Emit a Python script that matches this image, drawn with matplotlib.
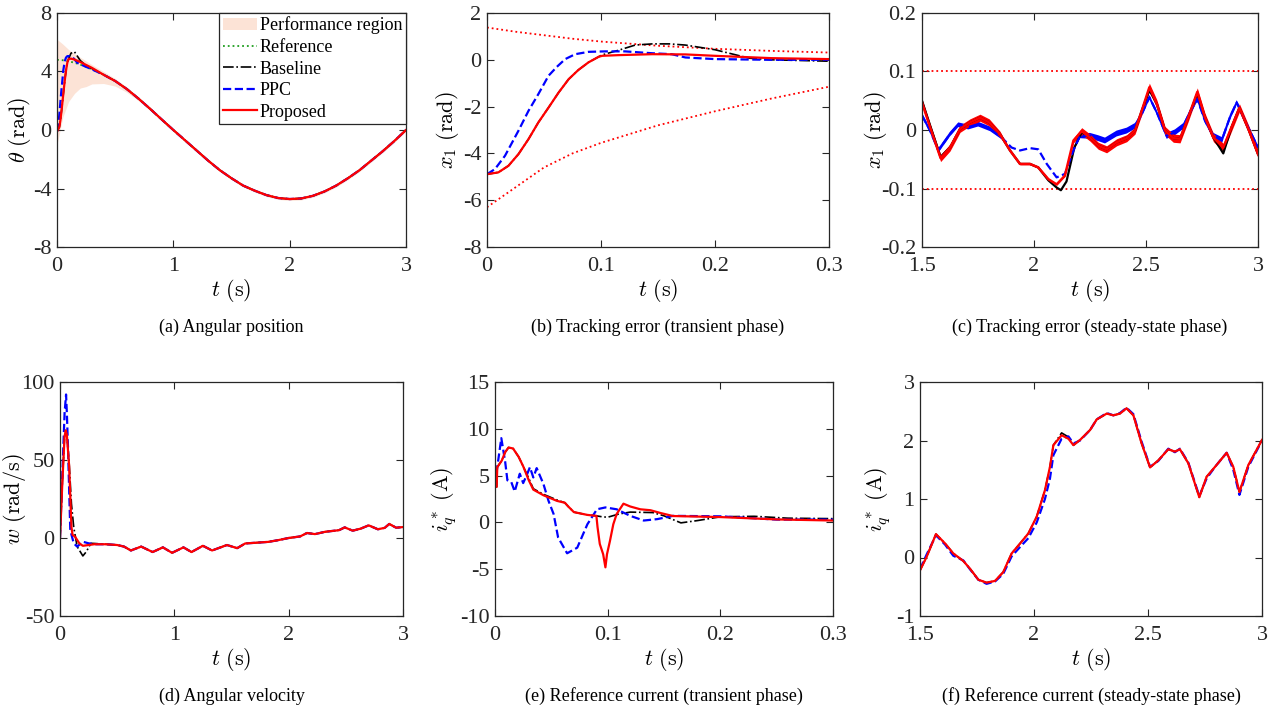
import numpy as np
import matplotlib
matplotlib.use("Agg")
import matplotlib.pyplot as plt

plt.rcParams['font.family'] = ['Liberation Serif', 'DejaVu Serif']
plt.rcParams['mathtext.fontset'] = 'cm'
plt.rcParams['axes.unicode_minus'] = False

# ---------------- (a) angular position ----------------
ref_t = [0, 0.05, 0.1, 0.15, 0.2, 0.25, 0.3, 0.4, 0.5, 0.6, 0.7, 0.8, 0.9, 1.0, 1.1, 1.2, 1.3,
         1.4, 1.5, 1.6, 1.7, 1.8, 1.9, 2.0, 2.1, 2.2, 2.3, 2.4, 2.5, 2.6, 2.7, 2.8, 2.9, 3.0]
ref_theta = [4.8, 4.77, 4.7, 4.6, 4.47, 4.32, 4.15, 3.78, 3.35, 2.8, 2.15, 1.45, 0.72, 0.0, -0.7,
             -1.4, -2.1, -2.75, -3.3, -3.8, -4.15, -4.45, -4.65, -4.72, -4.68, -4.5, -4.2, -3.8,
             -3.3, -2.75, -2.1, -1.45, -0.75, 0.0]
perf_hi_off = [1.4, 1.1, 0.8, 0.62, 0.5, 0.4, 0.32, 0.22, 0.17, 0.14, 0.12, 0.11] + [0.1] * 22
perf_lo_off = [-5.8, -3.9, -2.75, -2.1, -1.6, -1.35, -1.0, -0.6, -0.35, -0.22, -0.15, -0.12] + [-0.1] * 22

prop_a_t = [0, 0.02, 0.03, 0.04, 0.05, 0.06, 0.07, 0.08, 0.09, 0.1, 0.12, 0.15, 0.2, 0.25, 0.3] + ref_t[7:]
prop_a = [-0.1, 0.2, 0.7, 1.4, 2.15, 2.9, 3.6, 4.2, 4.65, 4.85, 4.88, 4.82, 4.65, 4.45, 4.25] + ref_theta[7:]
base_a_t = prop_a_t
base_a = [-0.1, 0.2, 0.7, 1.4, 2.15, 2.9, 3.6, 4.2, 4.65, 4.87, 5.25, 5.35, 4.75, 4.4, 4.2] + ref_theta[7:]
ppc_a_t = [0, 0.007, 0.0158, 0.0276, 0.0364, 0.045, 0.054, 0.0613, 0.0686, 0.0774, 0.089, 0.104,
           0.121, 0.145, 0.174, 0.2, 0.25, 0.3] + ref_t[7:]
ppc_a = [-0.1, 0.1, 0.68, 1.75, 2.58, 3.28, 4.07, 4.44, 4.75, 4.95, 5.05, 5.05, 5.0, 4.88, 4.6,
         4.5, 4.32, 4.15] + ref_theta[7:]

# ---------------- (b) tracking error, transient ----------------
bnd_t = [0, 0.025, 0.05, 0.075, 0.1, 0.15, 0.2, 0.25, 0.3]
bnd_hi = [1.38, 1.2, 1.05, 0.9, 0.78, 0.6, 0.47, 0.38, 0.31]
bnd_lo = [-6.3, -5.45, -4.6, -4.0, -3.55, -2.8, -2.2, -1.65, -1.15]
prop_b_t = [0, 0.01, 0.0188, 0.0276, 0.0364, 0.045, 0.054, 0.0628, 0.0716, 0.080, 0.089, 0.098,
            0.101, 0.1155, 0.145, 0.174, 0.2, 0.25, 0.3]
prop_b = [-4.89, -4.81, -4.53, -4.03, -3.39, -2.68, -2.04, -1.40, -0.83, -0.44, -0.11, 0.13, 0.17,
          0.2, 0.24, 0.23, 0.17, 0.07, 0.03]
base_b_t = [0, 0.01, 0.0188, 0.0276, 0.0364, 0.045, 0.054, 0.0628, 0.0716, 0.080, 0.089, 0.098,
            0.101, 0.1155, 0.13, 0.145, 0.16, 0.174, 0.2, 0.23, 0.25, 0.3]
base_b = [-4.89, -4.81, -4.53, -4.03, -3.39, -2.68, -2.04, -1.40, -0.83, -0.44, -0.11, 0.13, 0.21,
          0.41, 0.63, 0.68, 0.68, 0.63, 0.43, 0.07, 0.0, -0.06]
ppc_b_t = [0, 0.007, 0.0158, 0.0276, 0.0364, 0.045, 0.054, 0.0613, 0.0686, 0.0774, 0.089, 0.104,
           0.121, 0.145, 0.162, 0.174, 0.2, 0.25, 0.3]
ppc_b = [-4.89, -4.67, -4.10, -3.03, -2.18, -1.47, -0.68, -0.30, 0.03, 0.24, 0.34, 0.36, 0.36,
         0.28, 0.24, 0.1, 0.03, 0.0, 0.0]

# ---------------- (c) tracking error, steady state ----------------
ss_bound = 0.1
prop_c_t = [1.5, 1.536, 1.583, 1.625, 1.67, 1.714, 1.759, 1.80, 1.848, 1.893, 1.9375, 1.982, 2.019,
            2.064, 2.101, 2.138, 2.176, 2.213, 2.25, 2.287, 2.324, 2.369, 2.414, 2.451, 2.481,
            2.515, 2.548, 2.585, 2.622, 2.652, 2.689, 2.729, 2.763, 2.801, 2.845, 2.882, 2.917,
            2.957, 3.0]
prop_c = [0.047, 0.005, -0.048, -0.030, 0.002, 0.013, 0.021, 0.013, -0.007, -0.035, -0.058, -0.058,
          -0.064, -0.084, -0.093, -0.078, -0.018, -0.002, -0.013, -0.027, -0.033, -0.021, -0.014,
          -0.001, 0.033, 0.073, 0.045, -0.001, -0.014, -0.015, 0.022, 0.065, 0.022, -0.013,
          -0.030, 0.005, 0.038, 0.002, -0.041]
prop_c_w = [0.006, 0.006, 0.006, 0.006, 0.006, 0.006, 0.006, 0.006, 0.005, 0.0015, 0.0015, 0.0015,
            0.0015, 0.0015, 0.0015, 0.0015, 0.004, 0.006, 0.006, 0.006, 0.006, 0.006, 0.006,
            0.006, 0.007, 0.007, 0.007, 0.007, 0.007, 0.007, 0.007, 0.007, 0.007, 0.007, 0.007,
            0.007, 0.007, 0.007, 0.007]
base_c_t = [1.5, 1.536, 1.583, 1.625, 1.67, 1.714, 1.759, 1.80, 1.848, 1.893, 1.9375, 1.982, 2.019,
            2.064, 2.1, 2.12, 2.145, 2.18, 2.213, 2.25, 2.287, 2.324, 2.369, 2.414, 2.451, 2.481,
            2.515, 2.548, 2.585, 2.622, 2.652, 2.689, 2.729, 2.763, 2.801, 2.845, 2.882, 2.917,
            2.957, 3.0]
base_c = [0.050, 0.008, -0.046, -0.030, 0.002, 0.013, 0.021, 0.013, -0.007, -0.035, -0.058, -0.058,
          -0.064, -0.086, -0.098, -0.103, -0.088, -0.030, -0.004, -0.013, -0.027, -0.033, -0.021,
          -0.014, -0.001, 0.033, 0.068, 0.045, -0.001, -0.014, -0.015, 0.022, 0.062, 0.022,
          -0.013, -0.040, 0.005, 0.038, 0.002, -0.041]
ppc_c_t = [1.5, 1.536, 1.573, 1.625, 1.662, 1.707, 1.751, 1.804, 1.856, 1.900, 1.9375, 1.982, 2.019,
           2.057, 2.101, 2.138, 2.176, 2.205, 2.25, 2.287, 2.317, 2.369, 2.414, 2.451, 2.481,
           2.515, 2.548, 2.592, 2.629, 2.667, 2.696, 2.729, 2.763, 2.801, 2.838, 2.875, 2.905,
           2.942, 3.0]
ppc_c = [0.025, -0.001, -0.035, -0.007, 0.009, 0.005, 0.010, 0.002, -0.013, -0.030, -0.035, -0.031,
         -0.033, -0.058, -0.081, -0.075, -0.035, -0.010, -0.010, -0.014, -0.018, -0.006, -0.001,
         0.007, 0.027, 0.056, 0.030, -0.010, -0.004, 0.007, 0.030, 0.053, 0.016, -0.010, -0.018,
         0.022, 0.047, 0.016, -0.030]
ppc_c_w = [0.004, 0.004, 0.004, 0.004, 0.004, 0.004, 0.004, 0.004, 0.003, 0.0, 0.0, 0.0, 0.0, 0.0,
           0.0, 0.0, 0.002, 0.004, 0.005, 0.005, 0.005, 0.005, 0.005, 0.005, 0.004, 0.004, 0.004,
           0.005, 0.005, 0.005, 0.005, 0.004, 0.004, 0.005, 0.006, 0.005, 0.004, 0.004, 0.004]

# ---------------- (d) angular velocity ----------------
prop_d_t = [0, 0.02, 0.04, 0.05, 0.06, 0.08, 0.1, 0.11, 0.13, 0.17, 0.2, 0.3, 0.4, 0.5, 0.56, 0.62,
            0.71, 0.81, 0.9, 0.98, 1.08, 1.15, 1.25, 1.33, 1.46, 1.55, 1.62, 1.82, 1.9, 2.0, 2.1,
            2.16, 2.23, 2.32, 2.44, 2.49, 2.56, 2.63, 2.70, 2.78, 2.84, 2.88, 2.94, 3.0]
prop_d = [0, 35, 65, 69, 66, 46, 7, 2, 1, -3.5, -5, -4, -4, -4.5, -5.5, -8, -5.5, -9, -6, -9.5, -6,
          -9, -5, -8, -4.5, -6.5, -3.5, -2.5, -1.5, 0, 1, 3.2, 2.5, 4, 5, 6.8, 4.7, 6, 8.1, 5.6,
          6.5, 9, 6.6, 7]
base_d_t = [0, 0.02, 0.04, 0.05, 0.06, 0.08, 0.1, 0.12, 0.15, 0.2, 0.23, 0.27, 0.3] + prop_d_t[12:]
base_d = [0, 35, 65, 69, 66, 48, 22, 7, -5.5, -11.5, -8.8, -3.4, -3.5] + prop_d[12:]
ppc_d_t = [0, 0.02, 0.04, 0.053, 0.06, 0.07, 0.08, 0.09, 0.12, 0.15, 0.2, 0.25, 0.3] + prop_d_t[12:]
ppc_d = [0, 40, 80, 92, 80, 58, 31, 5, -3.4, -5.5, -2.4, -3.4, -4] + prop_d[12:]

# ---------------- (e) reference current, transient ----------------
prop_e_t = [0, 0.0015, 0.002, 0.006, 0.009, 0.012, 0.016, 0.021, 0.025, 0.03, 0.034, 0.043, 0.055,
            0.062, 0.065, 0.07, 0.082, 0.09, 0.091, 0.093, 0.096, 0.098, 0.0994, 0.102, 0.105,
            0.108, 0.114, 0.12, 0.129, 0.138, 0.147, 0.158, 0.2, 0.25, 0.3]
prop_e = [3.8, 3.8, 5.9, 6.6, 7.5, 8.0, 7.9, 7.0, 6.0, 4.5, 3.5, 2.9, 2.3, 2.1, 1.7, 1.1, 0.8, 0.7,
          -0.5, -2.3, -3.4, -4.8, -3.4, -2.0, -0.2, 0.9, 2.0, 1.7, 1.4, 1.3, 1.0, 0.68, 0.57, 0.32,
          0.2]
base_e_t = [0, 0.0015, 0.002, 0.006, 0.009, 0.012, 0.016, 0.021, 0.025, 0.03, 0.034, 0.043, 0.055,
            0.062, 0.065, 0.07, 0.082, 0.09, 0.095, 0.1, 0.11, 0.12, 0.14, 0.15, 0.165, 0.18, 0.2,
            0.23, 0.26, 0.3]
base_e = [3.8, 3.8, 5.9, 6.6, 7.5, 8.0, 7.9, 7.0, 6.0, 4.7, 3.6, 3.0, 2.4, 2.1, 1.7, 1.1, 0.8, 0.7,
          0.6, 0.55, 0.9, 1.1, 1.05, 0.7, -0.05, 0.2, 0.6, 0.65, 0.45, 0.4]
ppc_e_t = [0, 0.002, 0.0056, 0.009, 0.011, 0.0145, 0.0175, 0.022, 0.025, 0.028, 0.031, 0.034, 0.037,
           0.043, 0.0475, 0.052, 0.056, 0.064, 0.073, 0.082, 0.0905, 0.098, 0.108, 0.12, 0.132,
           0.144, 0.158, 0.2, 0.25, 0.3]
ppc_e = [4.0, 5.9, 9.0, 6.5, 4.5, 4.3, 3.3, 5.2, 4.2, 5.0, 5.9, 4.8, 5.8, 4.1, 2.3, 0.9, -1.6, -3.3,
         -2.7, -0.2, 1.4, 1.6, 1.4, 0.7, 0.2, 0.35, 0.7, 0.65, 0.3, 0.3]

# ---------------- (f) reference current, steady state ----------------
f_t = [1.5, 1.529, 1.570, 1.610, 1.646, 1.690, 1.719, 1.756, 1.792, 1.829, 1.865, 1.902, 1.939,
       1.975, 2.012, 2.048, 2.070, 2.085, 2.121, 2.151, 2.173, 2.202, 2.246, 2.275, 2.319, 2.348,
       2.377, 2.406, 2.436, 2.472, 2.509, 2.545, 2.589, 2.618, 2.640, 2.677, 2.725, 2.757, 2.794,
       2.845, 2.874, 2.901, 2.940, 3.0]
prop_f = [-0.22, 0.01, 0.40, 0.24, 0.07, -0.06, -0.19, -0.38, -0.43, -0.40, -0.25, 0.07, 0.24, 0.41,
          0.70, 1.15, 1.55, 1.92, 2.09, 2.03, 1.92, 2.01, 2.18, 2.36, 2.46, 2.43, 2.46, 2.55, 2.43,
          1.95, 1.54, 1.66, 1.85, 1.81, 1.85, 1.61, 1.03, 1.38, 1.55, 1.79, 1.55, 1.12, 1.58, 2.01]
base_f = [-0.22, 0.01, 0.40, 0.24, 0.07, -0.06, -0.19, -0.38, -0.43, -0.40, -0.25, 0.07, 0.24, 0.41,
          0.70, 1.15, 1.55, 1.92, 2.13, 2.06, 1.92, 2.01, 2.18, 2.36, 2.46, 2.43, 2.46, 2.55, 2.43,
          1.95, 1.54, 1.66, 1.85, 1.81, 1.85, 1.61, 1.03, 1.38, 1.55, 1.79, 1.55, 1.12, 1.58, 2.01]
ppc_f = [-0.2, 0.05, 0.38, 0.22, 0.03, -0.05, -0.2, -0.38, -0.45, -0.41, -0.28, 0.02, 0.18, 0.33,
         0.6, 1.0, 1.35, 1.75, 2.03, 2.07, 1.95, 2.0, 2.18, 2.36, 2.47, 2.43, 2.47, 2.56, 2.45, 1.98,
         1.55, 1.65, 1.86, 1.8, 1.86, 1.62, 1.05, 1.35, 1.55, 1.79, 1.5, 1.07, 1.55, 2.0]

# ---------------- drawing ----------------
RED = '#ff0000'
BLUE = '#0000ff'
GREEN = '#1f9e1f'
PEACH = '#fce3d6'
AX = '#262626'

fig = plt.figure(figsize=(12.76, 7.13), dpi=100)
W, H = 1276, 713


def make_ax(l, r, top, bot):
    return fig.add_axes([l / W, 1 - bot / H, (r - l) / W, (bot - top) / H])


axa = make_ax(57, 406, 13, 247)
axb = make_ax(487, 829, 13, 247)
axc = make_ax(922, 1258, 13, 247)
axd = make_ax(60, 403, 382, 616)
axe = make_ax(495, 833, 382, 616)
axf = make_ax(920, 1262, 382, 616)

# (a)
ref_arr = np.array(ref_theta)
axa.fill_between(ref_t, ref_arr + np.array(perf_lo_off), ref_arr + np.array(perf_hi_off),
                 color=PEACH, lw=0, label='Performance region')
axa.plot(ref_t, ref_theta, ':', color=GREEN, lw=1.3, label='Reference')
axa.plot(base_a_t, base_a, '-.', color='k', lw=1.2, label='Baseline')
axa.plot(ppc_a_t, ppc_a, '--', color=BLUE, lw=1.6, label='PPC')
axa.plot(prop_a_t, prop_a, '-', color=RED, lw=1.6, label='Proposed')
leg = axa.legend(loc='upper right', fontsize=13, borderaxespad=0, fancybox=False,
                 framealpha=1, edgecolor=AX, handlelength=1.9, handletextpad=0.15,
                 labelspacing=0.25, borderpad=0.2)
leg.get_frame().set_linewidth(0.9)
axa.set_xlim(0, 3)
axa.set_ylim(-8, 8)
axa.set_yticks([-8, -4, 0, 4, 8])
axa.set_xticks([0, 1, 2, 3])
axa.set_ylabel(r'$\theta\ \mathrm{(rad)}$')

# (b)
axb.plot(bnd_t, bnd_hi, ':', color=RED, lw=1.3)
axb.plot(bnd_t, bnd_lo, ':', color=RED, lw=1.3)
axb.plot(base_b_t, base_b, '-.', color='k', lw=1.2)
axb.plot(ppc_b_t, ppc_b, '--', color=BLUE, lw=1.6)
axb.plot(prop_b_t, prop_b, '-', color=RED, lw=1.6)
axb.set_xlim(0, 0.3)
axb.set_ylim(-8, 2)
axb.set_xticks([0, 0.1, 0.2, 0.3])
axb.set_yticks([-8, -6, -4, -2, 0, 2])
axb.set_ylabel(r'$x_1\ \mathrm{(rad)}$')

# (c)
axc.axhline(ss_bound, ls=':', color=RED, lw=1.3)
axc.axhline(-ss_bound, ls=':', color=RED, lw=1.3)
axc.plot(base_c_t, base_c, '-', color='k', lw=1.6)
pc = np.array(ppc_c)
pw = np.array(ppc_c_w)
axc.fill_between(ppc_c_t, pc - pw, pc + pw, where=pw > 0.001, color=BLUE, lw=0)
axc.plot(ppc_c_t, ppc_c, '--', color=BLUE, lw=1.6)
rc = np.array(prop_c)
rw = np.array(prop_c_w)
axc.fill_between(prop_c_t, rc - rw, rc + rw, color=RED, lw=0)
axc.plot(prop_c_t, prop_c, '-', color=RED, lw=1.8)
axc.set_xlim(1.5, 3)
axc.set_ylim(-0.2, 0.2)
axc.set_xticks([1.5, 2, 2.5, 3])
axc.set_yticks([-0.2, -0.1, 0, 0.1, 0.2])
axc.set_ylabel(r'$x_1\ \mathrm{(rad)}$')

# (d)
axd.plot(base_d_t, base_d, '-.', color='k', lw=1.2)
axd.plot(ppc_d_t, ppc_d, '--', color=BLUE, lw=1.6)
axd.plot(prop_d_t, prop_d, '-', color=RED, lw=1.6)
axd.set_xlim(0, 3)
axd.set_ylim(-50, 100)
axd.set_xticks([0, 1, 2, 3])
axd.set_yticks([-50, 0, 50, 100])
axd.set_ylabel(r'$w\ \mathrm{(rad/s)}$')

# (e)
axe.plot(base_e_t, base_e, '-.', color='k', lw=1.2)
axe.plot(ppc_e_t, ppc_e, '--', color=BLUE, lw=1.6)
axe.plot(prop_e_t, prop_e, '-', color=RED, lw=1.6)
axe.set_xlim(0, 0.3)
axe.set_ylim(-10, 15)
axe.set_xticks([0, 0.1, 0.2, 0.3])
axe.set_yticks([-10, -5, 0, 5, 10, 15])
axe.set_ylabel(r'$i_q^*\ \mathrm{(A)}$')

# (f)
axf.plot(f_t, base_f, '-.', color='k', lw=1.2)
axf.plot(f_t, ppc_f, '--', color=BLUE, lw=1.6)
axf.plot(f_t, prop_f, '-', color=RED, lw=1.6)
axf.set_xlim(1.5, 3)
axf.set_ylim(-1, 3)
axf.set_xticks([1.5, 2, 2.5, 3])
axf.set_yticks([-1, 0, 1, 2, 3])
axf.set_ylabel(r'$i_q^*\ \mathrm{(A)}$')

# label anchor is the text's bottom edge (rotated), so sit it right of the centre
ylabel_x = {axa: -0.069, axb: -0.076, axc: -0.098, axd: -0.093, axe: -0.107, axf: -0.079}
for ax in [axa, axb, axc, axd, axe, axf]:
    ax.set_xlabel(r'$t\ \mathrm{(s)}$', fontsize=16, labelpad=1)
    ax.yaxis.label.set_size(16)
    ax.yaxis.set_label_coords(ylabel_x[ax], 0.5)
    ax.tick_params(direction='in', top=True, right=True, length=5, width=0.8,
                   labelsize=16, colors=AX)
    ax.tick_params(axis='x', pad=7)
    ax.tick_params(axis='y', pad=4)
    for s in ax.spines.values():
        s.set_color(AX)
        s.set_linewidth(0.9)
    ax.xaxis.set_major_formatter(matplotlib.ticker.FuncFormatter(lambda v, p: f'{v:g}'))
    ax.yaxis.set_major_formatter(matplotlib.ticker.FuncFormatter(lambda v, p: f'{v:g}'))

captions = [(axa, '(a) Angular position', 327), (axb, '(b) Tracking error (transient phase)', 327),
            (axc, '(c) Tracking error (steady-state phase)', 327), (axd, '(d) Angular velocity', 696),
            (axe, '(e) Reference current (transient phase)', 696),
            (axf, '(f) Reference current (steady-state phase)', 696)]
for ax, txt, yp in captions:
    bb = ax.get_position()
    fig.text(bb.x0 + bb.width / 2, 1 - yp / H, txt, ha='center', va='center', fontsize=13)

fig.savefig('out.png', dpi=100)
